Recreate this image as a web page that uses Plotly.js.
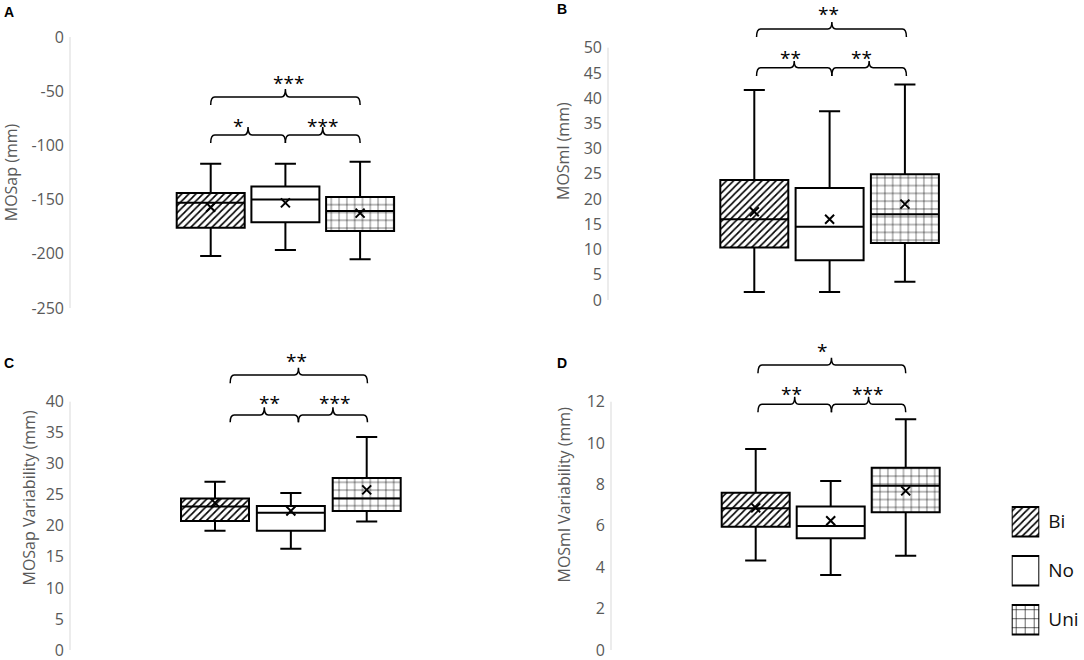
<!DOCTYPE html>
<html><head><meta charset="utf-8">
<script src="https://cdn.plot.ly/plotly-3.0.1.min.js"></script>
<style>html,body{margin:0;padding:0;background:#fff}#chart{width:1084px;height:660px}</style>
</head><body><div id="chart"></div>
<script>
// ---------- DATA ----------
const categories = ['Bi', 'No', 'Uni'];
const catPos = [0, 1, 2];

// Panel A: MOSap (mm)
const aLower  = [-202, -196.5, -205];
const aQ1     = [-176, -171, -179];
const aMedian = [-153, -150, -160.5];
const aQ3     = [-144, -138, -147.5];
const aUpper  = [-117, -117, -115];
const aMean   = [-157, -153, -162.5];
const aTicks  = [0, -50, -100, -150, -200, -250];
const aSig    = ['*', '***', '***'];   // Bi-No, No-Uni, Bi-Uni

// Panel B: MOSml (mm)
const bLower  = [1.6, 1.6, 3.6];
const bQ1     = [10.4, 7.9, 11.3];
const bMedian = [16.0, 14.5, 17.0];
const bQ3     = [23.8, 22.2, 24.9];
const bUpper  = [41.6, 37.4, 42.7];
const bMean   = [17.5, 16.0, 19.0];
const bTicks  = [0, 5, 10, 15, 20, 25, 30, 35, 40, 45, 50];
const bSig    = ['**', '**', '**'];

// Panel C: MOSap Variability (mm)
const cLower  = [19.2, 16.3, 20.7];
const cQ1     = [20.8, 19.2, 22.4];
const cMedian = [23.1, 22.1, 24.4];
const cQ3     = [24.4, 23.2, 27.7];
const cUpper  = [27.1, 25.3, 34.3];
const cMean   = [23.7, 22.4, 25.8];
const cTicks  = [0, 5, 10, 15, 20, 25, 30, 35, 40];
const cSig    = ['**', '***', '**'];

// Panel D: MOSml Variability (mm)
const dLower  = [4.32, 3.62, 4.56];
const dQ1     = [5.96, 5.40, 6.66];
const dMedian = [6.85, 5.99, 7.94];
const dQ3     = [7.60, 6.93, 8.81];
const dUpper  = [9.71, 8.17, 11.15];
const dMean   = [6.87, 6.25, 7.69];
const dTicks  = [0, 2, 4, 6, 8, 10, 12];
const dSig    = ['**', '***', '*'];

const legendSwatch = [1, 1, 1];

// ---------- STYLE / LAYOUT CONFIG ----------
const W = 1084, H = 660;
const FONT = 'Open Sans, sans-serif';
const GRAY = '#595959';
const patShape = ['/', '', '+'];
const patSize = [5, 8, 7.8];
const patSolid = [0.33, 0.1, 0.13];

const panels = [
  { label: 'A', title: 'MOSap (mm)', xa: 'x', ya: 'y',
    lower: aLower, q1: aQ1, med: aMedian, q3: aQ3, upper: aUpper, mean: aMean, ticks: aTicks, sig: aSig,
    axisPx: 70, firstPx: 210.7, stepPx: 74.7, rightPx: 500,
    yBottomPx: 308, yTopPx: 37, yRange: [-250, 0], standoff: 12,
    br: { low: -90.4, lowDrop: 7.4, lowRise: 7.4, up: -55.4, upDrop: 7.3, upRise: 7.4,
          xs: [0, 1, 2], lowStarY: -78.2, upStarY: -38.3, starX: [0.37, 1.50, 1.04] },
    lbl: [9.2, 12.5] },
  { label: 'B', title: 'MOSml (mm)', xa: 'x2', ya: 'y2',
    lower: bLower, q1: bQ1, med: bMedian, q3: bQ3, upper: bUpper, mean: bMean, ticks: bTicks, sig: bSig,
    axisPx: 608, firstPx: 754.3, stepPx: 75.3, rightPx: 1000,
    yBottomPx: 300, yTopPx: 300 - 59 * 5.046, yRange: [0, 59], standoff: 10,
    br: { low: 46.04, lowDrop: 1.65, lowRise: 1.32, up: 53.71, upDrop: 1.59, upRise: 1.38,
          xs: [0.03, 1.03, 2.02], lowStarY: 48.8, upStarY: 57.4, starX: [0.48, 1.43, 0.98] },
    lbl: [561.7, 9.2] },
  { label: 'C', title: 'MOSap Variability (mm)', xa: 'x3', ya: 'y3',
    lower: cLower, q1: cQ1, med: cMedian, q3: cQ3, upper: cUpper, mean: cMean, ticks: cTicks, sig: cSig,
    axisPx: 70, firstPx: 215, stepPx: 75.85, rightPx: 500,
    yBottomPx: 650, yTopPx: 650 - 49 * 6.2075, yRange: [0, 49], standoff: 6,
    br: { low: 37.86, lowDrop: 1.18, lowRise: 1.24, up: 44.3, upDrop: 1.34, upRise: 1.17,
          xs: [0.2, 1.1, 2.01], lowStarY: 40.5, upStarY: 47.2, starX: [0.725, 1.57, 1.08] },
    lbl: [9.2, 363.2] },
  { label: 'D', title: 'MOSml Variability (mm)', xa: 'x4', ya: 'y4',
    lower: dLower, q1: dQ1, med: dMedian, q3: dQ3, upper: dUpper, mean: dMean, ticks: dTicks, sig: dSig,
    axisPx: 611, firstPx: 755.7, stepPx: 75, rightPx: 1000,
    yBottomPx: 650, yTopPx: 650 - 15 * 20.69, yRange: [0, 15], standoff: 12,
    br: { low: 11.875, lowDrop: 0.385, lowRise: 0.365, up: 13.775, upDrop: 0.405, upRise: 0.355,
          xs: [0.03, 1.01, 2.0], lowStarY: 12.58, upStarY: 14.63, starX: [0.475, 1.49, 0.89] },
    lbl: [562, 363] }
];

function brace(x0, x1, xm, y, drop, rise, rx) {
  return `M${x0},${y - drop} Q${x0},${y} ${x0 + rx},${y} L${xm - rx},${y} Q${xm},${y} ${xm},${y + rise} ` +
         `Q${xm},${y} ${xm + rx},${y} L${x1 - rx},${y} Q${x1},${y} ${x1},${y - drop}`;
}

const data = [];
const layout = {
  width: W, height: H,
  margin: { l: 0, r: 0, t: 0, b: 0 },
  paper_bgcolor: '#fff', plot_bgcolor: 'rgba(0,0,0,0)',
  showlegend: false,
  font: { family: FONT, color: GRAY, size: 16 },
  shapes: [], annotations: []
};

panels.forEach((p, i) => {
  const n = i === 0 ? '' : String(i + 1);
  const boxW = 68 / p.stepPx;
  // pattern fill of boxes
  data.push({
    type: 'bar', x: catPos, y: p.q3.map((v, k) => v - p.q1[k]), base: p.q1,
    width: boxW, xaxis: p.xa, yaxis: p.ya, hoverinfo: 'skip',
    marker: { color: 'white', line: { width: 0 },
      pattern: { shape: patShape, size: patSize, solidity: patSolid, fgcolor: 'black', bgcolor: 'white', fillmode: 'replace' } }
  });
  // box outlines, medians and whiskers
  data.push({
    type: 'box', x: catPos, q1: p.q1, median: p.med, q3: p.q3,
    lowerfence: p.lower, upperfence: p.upper, width: boxW, whiskerwidth: 0.31,
    xaxis: p.xa, yaxis: p.ya, boxpoints: false, hoverinfo: 'skip',
    fillcolor: 'rgba(0,0,0,0)', line: { color: 'black', width: 2 }
  });
  // means
  data.push({
    type: 'scatter', mode: 'markers', x: catPos, y: p.mean, xaxis: p.xa, yaxis: p.ya, hoverinfo: 'skip',
    marker: { symbol: 'x-thin-open', size: 9, color: 'black', line: { color: 'black', width: 2 } }
  });

  const x0 = (p.axisPx - p.firstPx) / p.stepPx;
  const x1 = (p.rightPx - p.firstPx) / p.stepPx;
  layout['xaxis' + n] = {
    domain: [p.axisPx / W, p.rightPx / W], range: [x0, x1], visible: false,
    anchor: 'y' + n, fixedrange: true
  };
  layout['yaxis' + n] = {
    domain: [1 - p.yBottomPx / H, 1 - p.yTopPx / H], range: p.yRange,
    anchor: 'x' + n, showgrid: false, zeroline: false, showline: false, ticks: '',
    tickvals: p.ticks, ticktext: p.ticks.map(String), ticklabelstandoff: 5, ticklabeloverflow: 'allow',
    tickfont: { size: 16, color: GRAY, family: FONT },
    title: { text: p.title, font: { size: 16, color: GRAY, family: FONT }, standoff: p.standoff },
    fixedrange: true
  };
  // y axis line
  layout.shapes.push({
    type: 'line', xref: p.xa + ' domain', yref: p.ya, x0: 0, x1: 0,
    y0: Math.min(...p.ticks), y1: Math.max(...p.ticks),
    line: { color: '#d9d9d9', width: 1 }
  });
  // brackets
  const b = p.br;
  const rx = 4 / p.stepPx;
  const [bx0, bx1, bx2] = b.xs;
  const bl = { color: 'black', width: 1.5 };
  layout.shapes.push({ type: 'path', xref: p.xa, yref: p.ya, line: bl,
    path: brace(bx0, bx1, (bx0 + bx1) / 2, b.low, b.lowDrop, b.lowRise, rx) });
  layout.shapes.push({ type: 'path', xref: p.xa, yref: p.ya, line: bl,
    path: brace(bx1, bx2, (bx1 + bx2) / 2, b.low, b.lowDrop, b.lowRise, rx) });
  layout.shapes.push({ type: 'path', xref: p.xa, yref: p.ya, line: bl,
    path: brace(bx0, bx2, bx1, b.up, b.upDrop, b.upRise, rx) });
  const starY = [b.lowStarY, b.lowStarY, b.upStarY];
  p.sig.forEach((s, k) => {
    layout.annotations.push({
      text: s, xref: p.xa, yref: p.ya, x: b.starX[k], y: starY[k],
      showarrow: false, xanchor: 'center', yanchor: 'middle', yshift: -4,
      font: { size: 19, color: 'black', family: FONT }
    });
  });
  // panel letter
  layout.annotations.push({
    text: '<b>' + p.label + '</b>', xref: 'paper', yref: 'paper',
    x: p.lbl[0] / W, y: 1 - p.lbl[1] / H, xanchor: 'center', yanchor: 'middle', showarrow: false,
    font: { size: 14, color: 'black', family: 'Liberation Sans, Arial, sans-serif' }
  });
});

// legend as a small subplot
data.push({
  type: 'bar', orientation: 'h', y: categories, x: legendSwatch, base: 0, width: 0.6,
  xaxis: 'x5', yaxis: 'y5', hoverinfo: 'skip',
  marker: { color: 'white', line: { color: 'black', width: 2 },
    pattern: { shape: patShape, size: [5, 8, 9], solidity: patSolid, fgcolor: 'black', bgcolor: 'white', fillmode: 'replace' } }
});
layout.xaxis5 = { domain: [1011.7 / W, 1039.3 / W], range: [0, 1], visible: false, anchor: 'y5', fixedrange: true };
layout.yaxis5 = {
  domain: [1 - 644.2 / H, 1 - 497.2 / H], type: 'category', range: [2.5, -0.5],
  anchor: 'x5', side: 'right', showgrid: false, zeroline: false, showline: false, ticks: '',
  ticklabelstandoff: 8, tickfont: { size: 19, color: '#111', family: FONT }, fixedrange: true
};

Plotly.newPlot('chart', data, layout, { staticPlot: true, displayModeBar: false });
</script>
</body></html>
